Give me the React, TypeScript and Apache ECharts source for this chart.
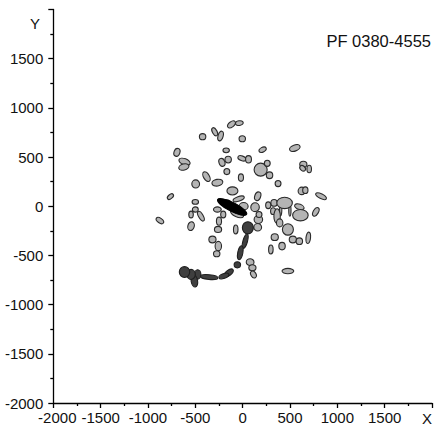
import React, { useEffect, useRef } from "react";
import * as echarts from "echarts";

// Each particle: [centre x, centre y, semi-axis x, semi-axis y, tilt in degrees (counter-clockwise)]
const lightParticles: number[][] = [
  [-118, 832, 48, 27, 35], [-35, 845, 41, 24, 10], [-295, 757, 24, 45, 30], [-233, 714, 27, 51, -15],
  [-423, 707, 34, 31, 0], [-4, 686, 34, 31, 0], [-694, 548, 31, 41, -20], [-174, 568, 34, 24, 0],
  [211, 575, 41, 24, 30], [551, 592, 58, 31, 20], [-614, 453, 62, 31, -20], [-621, 399, 55, 31, 15],
  [-219, 446, 31, 41, 20], [-153, 474, 34, 34, 0], [-7, 487, 45, 24, -20], [62, 477, 31, 38, 0],
  [190, 372, 69, 66, 0], [260, 436, 31, 31, 0], [284, 315, 34, 34, 0], [641, 426, 38, 31, 0],
  [634, 386, 34, 24, -40], [703, 379, 24, 38, 0], [-167, 352, 31, 31, 0], [-18, 291, 27, 38, 0],
  [-382, 301, 31, 55, 30], [-267, 240, 58, 34, 10], [-496, 227, 41, 41, 0], [374, 230, 31, 31, 0],
  [-108, 156, 58, 41, 0], [-42, 75, 62, 24, 20], [159, 102, 31, 45, -20], [624, 156, 38, 38, 0],
  [662, 163, 28, 34, 0], [828, 102, 62, 24, -25], [-763, 98, 38, 21, 40], [-874, -145, 45, 24, -35],
  [-500, 44, 34, 24, 0], [-500, -33, 31, 27, 0], [-545, -84, 24, 34, 0], [-441, -101, 24, 55, 30],
  [-545, -202, 34, 45, -15], [-267, -33, 41, 27, 0], [-205, -84, 27, 34, 0], [-250, -152, 27, 41, 0],
  [-260, -236, 38, 31, 0], [-73, -236, 24, 45, 0], [-319, -338, 38, 34, 0], [-257, -405, 34, 48, 0],
  [-274, -483, 34, 31, 0], [-170, 34, 48, 31, 0], [-59, -74, 75, 34, -25], [10, 0, 48, 38, 0],
  [131, -10, 45, 45, 0], [332, 34, 34, 34, 0], [402, -33, 12, 62, 0], [499, -44, 12, 58, 0],
  [443, 34, 82, 58, 0], [270, 10, 27, 34, 0], [322, -50, 27, 34, 0], [364, -101, 34, 75, 0],
  [391, -169, 34, 41, 0], [599, -6, 52, 27, -20], [610, -91, 82, 58, 0], [773, -57, 27, 48, -30],
  [166, -135, 45, 41, 0], [159, -213, 41, 38, 0], [173, -84, 31, 31, 0], [478, -236, 58, 58, 0],
  [530, -338, 38, 34, 0], [599, -355, 34, 34, 0], [693, -321, 24, 58, -5], [339, -314, 38, 34, 0],
  [416, -405, 34, 38, 0], [298, -439, 24, 45, 0], [79, -568, 41, 34, 0], [103, -625, 38, 31, 0],
  [114, -693, 27, 38, 30], [478, -659, 62, 27, 0],
];

const darkParticles: number[][] = [
  [55, -219, 58, 62, 0], [27, -355, 24, 75, -15], [-25, -473, 27, 72, -10], [-56, -595, 34, 31, 0],
  [-146, -676, 55, 27, 35], [-198, -709, 55, 24, 20], [-354, -720, 93, 24, -5], [-475, -693, 34, 48, 0],
  [-510, -760, 34, 62, 10], [-545, -693, 45, 51, 0], [-614, -669, 55, 55, 0],
];

const blackParticles: number[][] = [[-111, -7, 172, 45, -27]];

const axisTicks = [-2000, -1500, -1000, -500, 0, 500, 1000, 1500, 2000];
const titleText = "PF 0380-4555";
const xName = "X";
const yName = "Y";

const FONT = "'Liberation Sans', Arial, sans-serif";

function particleSeries(data: number[][], fill: string, stroke: string) {
  return {
    type: "custom",
    coordinateSystem: "cartesian2d",
    data,
    clip: false,
    silent: true,
    renderItem: (_params: any, api: any) => {
      const c = api.coord([api.value(0), api.value(1)]);
      const s = api.size([api.value(2), api.value(3)]);
      return {
        type: "ellipse",
        x: c[0],
        y: c[1],
        rotation: (api.value(4) * Math.PI) / 180,
        shape: { cx: 0, cy: 0, rx: s[0], ry: s[1] },
        style: { fill, stroke, lineWidth: 1.1 },
      };
    },
  };
}

export default function App() {
  const ref = useRef<HTMLDivElement>(null);
  useEffect(() => {
    if (!ref.current) return;
    const chart = echarts.init(ref.current, null, { renderer: "svg" });
    const axisCommon = {
      min: axisTicks[0],
      max: axisTicks[axisTicks.length - 1],
      interval: 500,
      splitLine: { show: false },
      axisLine: { show: true, onZero: false, lineStyle: { color: "#000", width: 1.3 } },
      axisTick: { show: true, length: 5, lineStyle: { color: "#000", width: 1.3 } },
      minorTick: { show: true, splitNumber: 2, length: 3, lineStyle: { color: "#000", width: 1.3 } },
    };
    chart.setOption({
      animation: false,
      grid: { left: 53.3, top: 9.5, width: 384.7, height: 393.8, containLabel: false },
      xAxis: {
        type: "value",
        ...axisCommon,
        axisLabel: {
          color: "#111",
          fontFamily: FONT,
          fontSize: 15,
          margin: 7,
          formatter: (v: number) => (v === 2000 ? "" : v === -2000 ? "{e|-2000}" : String(v)),
          rich: { e: { padding: [0, 0, 0, 8], fontSize: 15, fontFamily: FONT, color: "#111" } },
        },
      },
      yAxis: {
        type: "value",
        ...axisCommon,
        axisLabel: {
          color: "#111",
          fontFamily: FONT,
          fontSize: 15,
          margin: 10,
          formatter: (v: number) => (v === 2000 ? "" : String(v)),
        },
      },
      graphic: [
        {
          type: "text",
          right: 4,
          top: 32,
          style: { text: titleText, fill: "#111", font: `16.5px ${FONT}` },
        },
        {
          type: "text",
          x: 427,
          y: 418,
          style: { text: xName, fill: "#111", font: `15px ${FONT}`, align: "center", verticalAlign: "middle" },
        },
        {
          type: "text",
          x: 35,
          y: 23,
          style: { text: yName, fill: "#111", font: `15px ${FONT}`, align: "center", verticalAlign: "middle" },
        },
      ],
      series: [
        particleSeries(lightParticles, "#b4b4b4", "#2a2a2a"),
        particleSeries(darkParticles, "#3f3f3f", "#1e1e1e"),
        particleSeries(blackParticles, "#000", "#000"),
      ],
    });
    return () => chart.dispose();
  }, []);
  return (
    <div
      ref={ref}
      style={{ position: "absolute", left: 0, top: 0, width: 435, height: 425, background: "#fff" }}
    />
  );
}
